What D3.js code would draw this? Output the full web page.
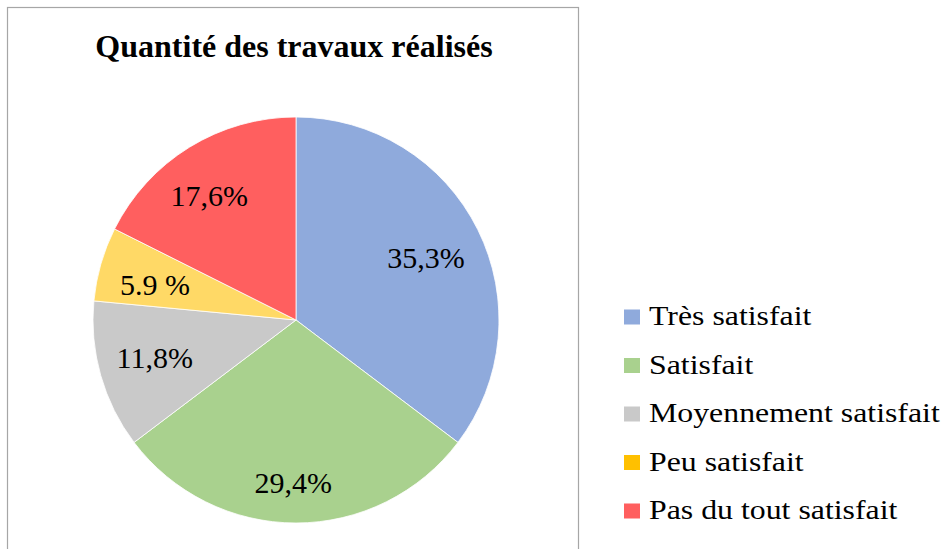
<html>
<script src="https://d3js.org/d3.v7.min.js"></script>
<style>
  body { margin: 0; background: #fff; }
</style>
<body>
<div id="chart_area"></div>
<script>

// data
var categories = ["Très satisfait", "Satisfait", "Moyennement satisfait", "Peu satisfait", "Pas du tout satisfait"];
var values = [35.3, 29.4, 11.8, 5.9, 17.6];
var labels = ["35,3%", "29,4%", "11,8%", "5.9 %", "17,6%"];
var title = "Quantité des travaux réalisés";

var sliceColor = ["#8faadc", "#a9d18e", "#c9c9c9", "#ffd966", "#ff5f5f"];
var legendColor = ["#8faadc", "#a9d18e", "#c9c9c9", "#ffc000", "#ff5f5f"];
// excel "best fit" label placement: radius fraction + angle nudge (deg)
var labelFrac = [0.71, 0.80, 0.72, 0.716, 0.746];
var labelNudge = [0.8, 1, 0.9, -2.1, -3.3];

var font = "'Liberation Serif', 'Times New Roman', Times, serif";

var width = 950, height = 549;
var cx = 296, cy = 320, radius = 203;

var svg = d3.select("#chart_area").append("svg")
    .attr("width", width).attr("height", height)
    .attr("font-family", font);

// chart border
svg.append("rect")
    .attr("x", 7.5).attr("y", 7.5)
    .attr("width", 571).attr("height", 560)
    .attr("fill", "none")
    .attr("stroke", "#a6a6a6")
    .attr("stroke-width", 1.2);

svg.append("text")
    .attr("x", 294).attr("y", 57)
    .attr("text-anchor", "middle")
    .attr("font-size", 32)
    .attr("font-weight", "bold")
    .text(title);

var pie = d3.pie().sort(null).value(d => d.value);
var arcs = pie(categories.map((c, i) => ({name: c, value: values[i], i: i})));
var arc = d3.arc().innerRadius(0).outerRadius(radius);

var g = svg.append("g").attr("transform", "translate(" + cx + "," + cy + ")");

g.selectAll("path").data(arcs).enter().append("path")
    .attr("d", arc)
    .attr("fill", d => sliceColor[d.data.i])
    .attr("stroke", "#fff")
    .attr("stroke-width", 0.8);

g.selectAll(".lbl").data(arcs).enter().append("text")
    .attr("class", "lbl")
    .attr("transform", d => {
        var r = radius * labelFrac[d.data.i];
        var a = (d.startAngle + d.endAngle) / 2 + labelNudge[d.data.i] * Math.PI / 180;
        return "translate(" + (r * Math.sin(a)) + "," + (-r * Math.cos(a)) + ")";
    })
    .attr("text-anchor", "middle")
    .attr("dy", "0.34em")
    .attr("font-size", 30)
    .attr("fill", "#000")
    .text(d => labels[d.data.i]);

// legend (text in the picture is a bit wider than plain Times)
var leg = svg.append("g").attr("transform", "translate(624,317)");
var rows = leg.selectAll("g").data(categories).enter().append("g")
    .attr("transform", (d, i) => "translate(0," + (i * 48.5) + ")");
rows.append("rect")
    .attr("x", 0).attr("y", -7.5)
    .attr("width", 16).attr("height", 15)
    .attr("fill", (d, i) => legendColor[i]);
rows.append("text")
    .attr("transform", "translate(25,8) scale(1.137,1)")
    .attr("font-size", 28)
    .attr("fill", "#000")
    .text(d => d);

</script>
</body>
</html>
